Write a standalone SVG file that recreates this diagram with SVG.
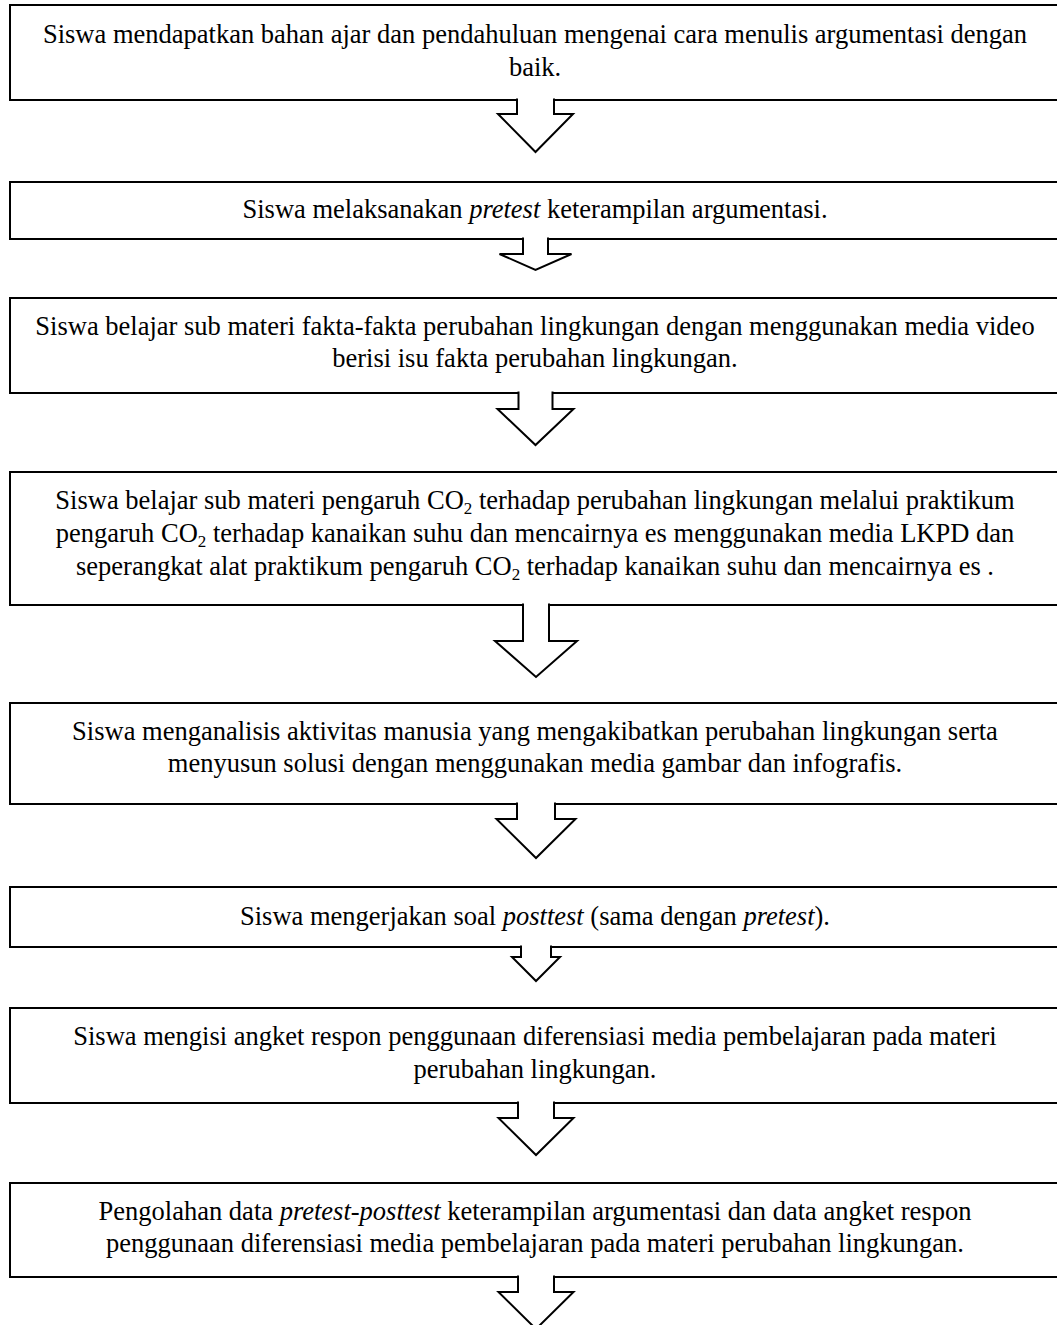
<svg xmlns="http://www.w3.org/2000/svg" width="1057" height="1325" viewBox="0 0 1057 1325">
<style>
.box{fill:#fff;stroke:#000;stroke-width:2}
.arr{fill:#fff;stroke:#000;stroke-width:2;stroke-linejoin:miter}
text{font-family:"Liberation Serif","Times New Roman",serif;font-size:26.5px;fill:#000;text-anchor:middle}
.i{font-style:italic}
.s{font-size:17px}
</style>
<rect width="1057" height="1325" fill="#fff"/>
<g id="n1"><rect class="box" x="10" y="5" width="1055" height="95"/>
<text x="535" y="43">Siswa mendapatkan bahan ajar dan pendahuluan mengenai cara menulis argumentasi dengan</text>
<text x="535" y="76">baik.</text></g>
<g id="n2"><rect class="box" x="10" y="182" width="1055" height="57"/>
<text x="535" y="218">Siswa melaksanakan <tspan class="i">pretest</tspan> keterampilan argumentasi.</text></g>
<g id="n3"><rect class="box" x="10" y="298" width="1055" height="95"/>
<text x="535" y="335">Siswa belajar sub materi fakta-fakta perubahan lingkungan dengan menggunakan media video</text>
<text x="535" y="367">berisi isu fakta perubahan lingkungan.</text></g>
<g id="n4"><rect class="box" x="10" y="472" width="1055" height="133"/>
<text x="535" y="509">Siswa belajar sub materi pengaruh CO<tspan class="s" dy="5">2</tspan><tspan dy="-5"> terhadap perubahan lingkungan melalui praktikum</tspan></text>
<text x="535" y="542">pengaruh CO<tspan class="s" dy="5">2</tspan><tspan dy="-5"> terhadap kanaikan suhu dan mencairnya es menggunakan media LKPD dan</tspan></text>
<text x="535" y="575">seperangkat alat praktikum pengaruh CO<tspan class="s" dy="5">2</tspan><tspan dy="-5"> terhadap kanaikan suhu dan mencairnya es .</tspan></text></g>
<g id="n5"><rect class="box" x="10" y="703" width="1055" height="101"/>
<text x="535" y="740">Siswa menganalisis aktivitas manusia yang mengakibatkan perubahan lingkungan serta</text>
<text x="535" y="772">menyusun solusi dengan menggunakan media gambar dan infografis.</text></g>
<g id="n6"><rect class="box" x="10" y="887" width="1055" height="60"/>
<text x="535" y="925">Siswa mengerjakan soal <tspan class="i">posttest</tspan> (sama dengan <tspan class="i">pretest</tspan>).</text></g>
<g id="n7"><rect class="box" x="10" y="1008" width="1055" height="95"/>
<text x="535" y="1045">Siswa mengisi angket respon penggunaan diferensiasi media pembelajaran pada materi</text>
<text x="535" y="1078">perubahan lingkungan.</text></g>
<g id="n8"><rect class="box" x="10" y="1183" width="1055" height="94"/>
<text x="535" y="1220">Pengolahan data <tspan class="i">pretest-posttest</tspan> keterampilan argumentasi dan data angket respon</text>
<text x="535" y="1252">penggunaan diferensiasi media pembelajaran pada materi perubahan lingkungan.</text></g>
<g id="connectors">
<path class="arr" d="M517,98.5 V114 H498 L535.5,152 L573,114 H554 V98.5"/>
<path class="arr" d="M523,237.5 V254 H499.5 L535.5,270 L571.5,254 H548 V237.5"/>
<path class="arr" d="M518.5,391.5 V409 H497.5 L535.5,445 L573.5,409 H552.5 V391.5"/>
<path class="arr" d="M523,603.5 V641 H495 L536,677 L577,641 H549 V603.5"/>
<path class="arr" d="M517,802.5 V819 H496.5 L536,858 L575.5,819 H555 V802.5"/>
<path class="arr" d="M521,945.5 V957 H512 L536,981 L560,957 H551 V945.5"/>
<path class="arr" d="M518,1101.5 V1118 H498.5 L536,1155 L573.5,1118 H554 V1101.5"/>
<path class="arr" d="M518,1275.5 V1292 H498.5 L536,1329 L573.5,1292 H554 V1275.5"/>
</g>
</svg>
